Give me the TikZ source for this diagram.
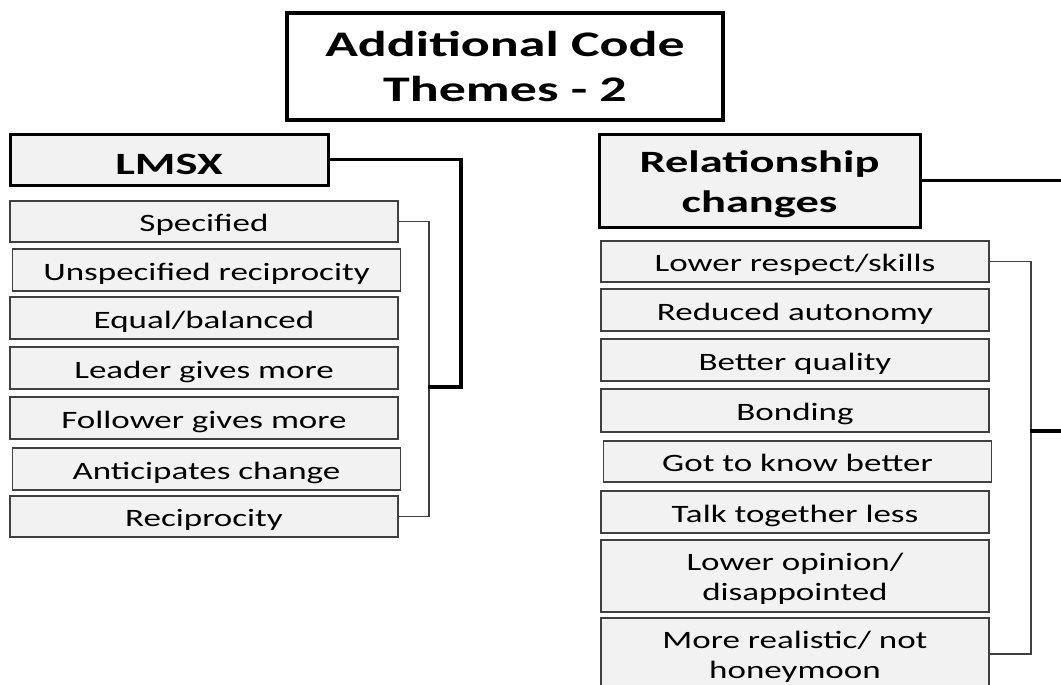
\documentclass[tikz,border=0pt]{standalone}
\usepackage{fontspec}
\setmainfont{Carlito}[FakeStretch=1.4, BoldFeatures={FakeStretch=1.5}]
\usepackage{xcolor}
\usetikzlibrary{calc}
\usetikzlibrary{positioning}
\definecolor{boxgrey}{HTML}{F2F2F2}
\definecolor{linegrey}{HTML}{404040}

\begin{document}
\begin{tikzpicture}[x=1pt, y=-1pt,
  titlebox/.style={draw, line width=3.5pt, fill=white, minimum width=436pt, minimum height=107pt, inner sep=0pt, align=center, font=\bfseries\fontsize{36}{45}\selectfont},
  themebox/.style={draw, line width=3pt, fill=boxgrey, inner sep=0pt, align=center, font=\bfseries\fontsize{31}{40}\selectfont},
  codebox/.style={draw=linegrey, line width=1.8pt, fill=boxgrey, minimum width=388pt, minimum height=41pt, inner sep=0pt, align=center, text height=24pt, text depth=4pt, font=\fontsize{25}{30}\selectfont},
  tallbox/.style={codebox, minimum height=72pt, text height=52pt, text depth=4pt},
  thinlink/.style={draw=linegrey, line width=1.8pt},
  thicklink/.style={draw, line width=3.5pt}]

\useasboundingbox (0,0) rectangle (1061,685);
\clip (0,0) rectangle (1061,685);

\node[titlebox] (title) at (505,66.5) {Additional Code\\Themes - 2};

% left group
\node[themebox, minimum width=318pt, minimum height=51pt, text height=29pt, text depth=0pt] (lmsx) at (169,159.5) {LMSX};
\node[codebox] (spec) at (204,221.5) {Specified};
\node[codebox, minimum height=42pt] (unspec) at (206.5,270) {Unspecified reciprocity};
\node[codebox, minimum height=42pt] (equal) at (204,318) {Equal/balanced};
\node[codebox, minimum height=42pt] (leader) at (204,368) {Leader gives more};
\node[codebox, minimum height=42pt] (follower) at (204,418) {Follower gives more};
\node[codebox, minimum height=42pt] (antic) at (206.5,469) {Anticipates change};
\node[codebox] (recip) at (204,516.5) {Reciprocity};

\coordinate (ljoin) at (428,387);
\draw[thinlink] (spec.east) -- ++(30,0) |- (recip.east);
\draw[thicklink] (lmsx.east) -| ($(ljoin)+(33,0)$) -- (ljoin);

% right group
\node[themebox, minimum width=321pt, minimum height=93pt, text height=67pt, text depth=4pt] (rel) at (759.5,180.5) {Relationship\\changes};
\node[codebox] (respect) at (795,261.5) {Lower respect/skills};
\node[codebox, minimum height=42pt] (autonomy) at (795,310) {Reduced autonomy};
\node[codebox, minimum height=42pt] (quality) at (795,360) {Better quality};
\node[codebox, minimum height=43pt] (bonding) at (795,410.5) {Bonding};
\node[codebox] (know) at (797.5,461.5) {Got to know better};
\node[codebox, minimum height=42pt] (talk) at (795,512) {Talk together less};
\node[tallbox] (opinion) at (795,576) {Lower opinion/\\disappointed};
\node[tallbox] (real) at (795,654) {More realistic/ not\\honeymoon};

\coordinate (rjoin) at (1030,431);
\draw[thinlink] (respect.east) -- ++(41,0) |- (real.east);
\draw[thicklink] (rel.east) -| ($(rjoin)+(45,0)$) -- (rjoin);

\end{tikzpicture}
\end{document}
